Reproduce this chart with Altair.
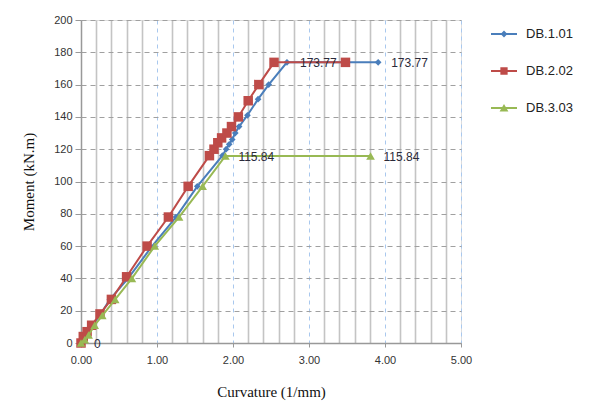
import altair as alt
import pandas as pd

# ---- data ----
series_names = ["DB.1.01", "DB.2.02", "DB.3.03"]

db1_curv = [0.00, 0.04, 0.09, 0.15, 0.26, 0.38, 0.62, 0.92, 1.25, 1.53, 1.86, 1.91, 1.95, 1.99, 2.03, 2.08, 2.19, 2.33, 2.47, 2.71, 3.91]
db1_mom = [0, 3, 7, 11, 18, 27, 40, 59, 78, 97, 116, 120, 123, 126, 130, 134, 141, 151, 160, 173.77, 173.77]

db2_curv = [0.00, 0.03, 0.08, 0.14, 0.25, 0.40, 0.60, 0.87, 1.15, 1.41, 1.69, 1.75, 1.80, 1.85, 1.92, 1.98, 2.07, 2.20, 2.34, 2.54, 3.48]
db2_mom = [0, 4, 7, 11, 18, 27, 41, 60, 78, 97, 116, 120, 124, 127, 130, 134, 140, 150, 160, 173.77, 173.77]

db3_curv = [0.00, 0.05, 0.10, 0.18, 0.28, 0.45, 0.67, 0.97, 1.29, 1.60, 1.90, 3.81]
db3_mom = [0, 2, 5, 11, 17, 27, 40, 60, 78, 97, 115.84, 115.84]

# which points carry a data label (series, index into that series)
label_points = [("DB.1.01", 19), ("DB.1.01", 20), ("DB.3.03", 0), ("DB.3.03", 10), ("DB.3.03", 11)]

x_values = [round(0.2 * i, 1) for i in range(26)]
y_values = list(range(0, 201, 20))

colors = ["#4a7ebb", "#be4b48", "#98b954"]
shapes = ["diamond", "square", "triangle-up"]
sizes = [45, 90, 75]
# legend glyphs: short line with the marker on it
legend_glyphs = [
    "M-1,-0.077H1V0.077H-1Z M0,-0.26L0.26,0L0,0.26L-0.26,0Z",
    "M-1,-0.077H1V0.077H-1Z M-0.28,-0.28H0.28V0.28H-0.28Z",
    "M-1,-0.077H1V0.077H-1Z M0,-0.3L0.34,0.26H-0.34Z",
]

rows = []
for name, cs, ms in zip(series_names, [db1_curv, db2_curv, db3_curv], [db1_mom, db2_mom, db3_mom]):
    for i, (c, m) in enumerate(zip(cs, ms)):
        rows.append({"series": name, "idx": i, "curv": c, "mom": m,
                     "lab": ("%g" % m) if (name, i) in label_points else ""})
df = pd.DataFrame(rows)

x_enc = alt.X("curv:Q", scale=alt.Scale(domain=[0, 5], nice=False),
              title="Curvature (1/mm)",
              axis=alt.Axis(values=x_values, tickCount=40,
                            labelExpr="datum.value % 1 === 0 ? format(datum.value, '.2f') : ''",
                            labelOverlap=False, labelFlush=False,
                            gridColor={"condition": {"test": "datum.value % 1 === 0", "value": "#a9c8ee"}, "value": "#c4c4c4"},
                            gridDash={"condition": {"test": "datum.value % 1 === 0", "value": [4, 4]}, "value": []},
                            gridWidth={"condition": {"test": "datum.value % 1 === 0", "value": 1}, "value": 1.6},
                            tickOpacity={"condition": {"test": "datum.value % 1 === 0", "value": 1}, "value": 0},
                            tickSize=4, tickColor="#999999",
                            domainColor="#999999", domainWidth=1.5,
                            labelPadding=7, titlePadding=19,
                            labelFont="Liberation Sans", labelFontSize=11, labelColor="#333333",
                            titleFont="Liberation Serif", titleFontSize=15, titleFontWeight="normal",
                            titleColor="#111111"))
y_enc = alt.Y("mom:Q", scale=alt.Scale(domain=[0, 200], nice=False),
              title="Moment (kN.m)",
              axis=alt.Axis(values=y_values, tickCount=20, labelOverlap=False,
                            gridColor="#a0a0a0", gridDash=[5, 4], gridWidth=1,
                            tickSize=6, tickColor="#999999",
                            domainColor="#999999", domainWidth=1.5,
                            labelPadding=3, titlePadding=17,
                            labelFont="Liberation Sans", labelFontSize=11, labelColor="#333333",
                            titleFont="Liberation Serif", titleFontSize=15, titleFontWeight="normal",
                            titleColor="#111111"))

legend = alt.Legend(title=None, orient="right", offset=29,
                    symbolSize=676, symbolOpacity=1,
                    labelFont="Liberation Sans", labelFontSize=13,
                    labelColor="#222222", labelOffset=8,
                    rowPadding=16, padding=0)

base = alt.Chart(df)

layers = []
for k, (name, col, shp, sz) in enumerate(zip(series_names, colors, shapes, sizes)):
    sub = base.transform_filter(alt.datum.series == name)
    layers.append(sub.mark_line(strokeWidth=2, color=col).encode(
        x=x_enc if k == 0 else "curv:Q", y=y_enc if k == 0 else "mom:Q", order="idx:Q"))
    layers.append(sub.mark_point(filled=True, opacity=1, shape=shp, size=sz, color=col).encode(
        x="curv:Q", y="mom:Q"))

# legend-only layer (no rows pass the filter; entries come from the scale domain)
legend_layer = base.transform_filter("datum.idx < 0").mark_point(filled=True).encode(
    x="curv:Q", y="mom:Q",
    fill=alt.Fill("series:N", scale=alt.Scale(domain=series_names, range=colors), legend=legend),
    shape=alt.Shape("series:N", scale=alt.Scale(domain=series_names, range=legend_glyphs), legend=legend),
)

labels = base.transform_filter("datum.lab !== ''").mark_text(
    align="left", baseline="middle", dx=13, dy=1,
    font="Liberation Sans", fontSize=12, color="#2a2a3a",
).encode(x="curv:Q", y="mom:Q", text="lab:N")

chart = alt.layer(*layers, legend_layer, labels).properties(
    width=380, height=323,
    padding={"left": 13, "top": 6, "right": 5, "bottom": 5},
).configure_view(stroke=None).configure(background="white")

chart.save("out.html", embed_options={"renderer": "svg", "actions": False})
